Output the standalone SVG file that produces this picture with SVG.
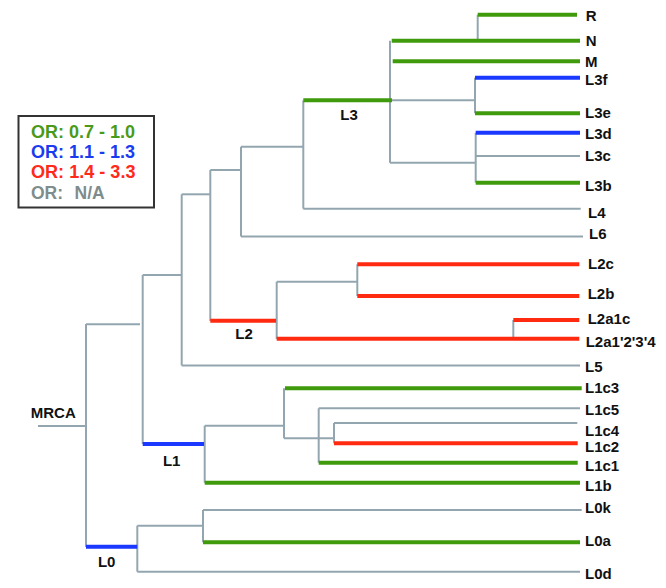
<svg xmlns="http://www.w3.org/2000/svg" width="666" height="588" viewBox="0 0 666 588">
<style>
.g{stroke:#93a6b0;stroke-width:2;fill:none}
.gr{stroke:#3f9a0c;stroke-width:4}
.bl{stroke:#1a38ff;stroke-width:4}
.rd{stroke:#ff2a10;stroke-width:4}
text{font-family:"Liberation Sans",Arial,sans-serif;font-weight:bold;font-size:15px;fill:#111}
.lg{font-size:17.5px}
</style>
<rect width="666" height="588" fill="#fff"/>
<g id="connectors">
<line class="g" x1="38" y1="426" x2="86" y2="426"/>
<line class="g" x1="86" y1="324" x2="86" y2="547"/>
<line class="g" x1="86" y1="324.3" x2="140" y2="324.3"/>
<line class="g" x1="142.7" y1="275" x2="142.7" y2="444"/>
<line class="g" x1="142.7" y1="275" x2="181.7" y2="275"/>
<line class="g" x1="181.7" y1="194.3" x2="181.7" y2="365.5"/>
<line class="g" x1="181.7" y1="365.5" x2="580" y2="365.5"/>
<line class="g" x1="181.7" y1="194.3" x2="210.3" y2="194.3"/>
<line class="g" x1="210.3" y1="170" x2="210.3" y2="321"/>
<line class="g" x1="210.3" y1="170" x2="242" y2="170"/>
<line class="g" x1="241" y1="146.7" x2="241" y2="236.5"/>
<line class="g" x1="241" y1="236.5" x2="583" y2="236.5"/>
<line class="g" x1="241" y1="146.7" x2="303.3" y2="146.7"/>
<line class="g" x1="303.3" y1="100.5" x2="303.3" y2="208.7"/>
<line class="g" x1="303.3" y1="208.7" x2="580.7" y2="208.7"/>
<line class="g" x1="390" y1="40.7" x2="390" y2="162.7"/>
<line class="g" x1="390" y1="100.3" x2="475" y2="100.3"/>
<line class="g" x1="475" y1="77.7" x2="475" y2="113.3"/>
<line class="g" x1="390" y1="162.7" x2="475.7" y2="162.7"/>
<line class="g" x1="475.7" y1="132.7" x2="475.7" y2="182.7"/>
<line class="g" x1="475.7" y1="156" x2="580" y2="156"/>
<line class="g" x1="477.7" y1="14.7" x2="477.7" y2="40.7"/>
<line class="g" x1="276.7" y1="281.7" x2="276.7" y2="339"/>
<line class="g" x1="276.7" y1="281.7" x2="357.3" y2="281.7"/>
<line class="g" x1="357.3" y1="264.3" x2="357.3" y2="296"/>
<line class="g" x1="513.3" y1="320" x2="513.3" y2="338.7"/>
<line class="g" x1="137.3" y1="525.7" x2="137.3" y2="571.7"/>
<line class="g" x1="137.3" y1="525.7" x2="204" y2="525.7"/>
<line class="g" x1="137.3" y1="571.7" x2="580" y2="571.7"/>
<line class="g" x1="203" y1="510" x2="203" y2="542.3"/>
<line class="g" x1="203" y1="510" x2="581.7" y2="510"/>
<line class="g" x1="204.7" y1="425.7" x2="204.7" y2="482.7"/>
<line class="g" x1="204.7" y1="425.7" x2="284" y2="425.7"/>
<line class="g" x1="284" y1="388.3" x2="284" y2="438.3"/>
<line class="g" x1="284" y1="438.3" x2="334" y2="438.3"/>
<line class="g" x1="318.7" y1="408.3" x2="318.7" y2="462.7"/>
<line class="g" x1="318.7" y1="408.3" x2="580" y2="408.3"/>
<line class="g" x1="334" y1="423" x2="334" y2="443.3"/>
<line class="g" x1="334" y1="423" x2="577.3" y2="423"/>
<line class="gr" x1="477.7" y1="14.7" x2="577" y2="14.7"/>
<line class="gr" x1="391.7" y1="40.7" x2="580" y2="40.7"/>
<line class="gr" x1="392.7" y1="61.3" x2="580" y2="61.3"/>
<line class="gr" x1="303.3" y1="100.3" x2="392" y2="100.3"/>
<line class="bl" x1="475" y1="77.7" x2="580" y2="77.7"/>
<line class="gr" x1="475" y1="113.3" x2="580" y2="113.3"/>
<line class="bl" x1="475.7" y1="132.7" x2="580" y2="132.7"/>
<line class="gr" x1="475.7" y1="182.7" x2="580" y2="182.7"/>
<line class="rd" x1="210.3" y1="320.7" x2="276" y2="320.7"/>
<line class="rd" x1="357.3" y1="264.3" x2="579.3" y2="264.3"/>
<line class="rd" x1="357.3" y1="296" x2="579.3" y2="296"/>
<line class="rd" x1="513.3" y1="320" x2="579.3" y2="320"/>
<line class="rd" x1="276.7" y1="338.7" x2="579.3" y2="338.7"/>
<line class="gr" x1="285" y1="388.3" x2="581.7" y2="388.3"/>
<line class="rd" x1="334" y1="443.3" x2="577.7" y2="443.3"/>
<line class="gr" x1="318.7" y1="462.7" x2="577.7" y2="462.7"/>
<line class="gr" x1="204.7" y1="482.7" x2="580" y2="482.7"/>
<line class="bl" x1="142.7" y1="444" x2="204" y2="444"/>
<line class="bl" x1="86" y1="546.7" x2="137.3" y2="546.7"/>
<line class="gr" x1="203" y1="542.3" x2="580" y2="542.3"/>
</g>
<g id="legend">
<rect x="18.5" y="116" width="135.5" height="91.5" fill="#fff" stroke="#333" stroke-width="2"/>
<text class="lg" x="31" y="137.5" textLength="104" lengthAdjust="spacingAndGlyphs" style="fill:#4a9a1a">OR: 0.7 - 1.0</text>
<text class="lg" x="31" y="158" textLength="104" lengthAdjust="spacingAndGlyphs" style="fill:#1a3cf0">OR: 1.1 - 1.3</text>
<text class="lg" x="31" y="178" textLength="104.5" lengthAdjust="spacingAndGlyphs" style="fill:#ff2a1a">OR: 1.4 - 3.3</text>
<text class="lg" y="199" style="fill:#7f8c8c"><tspan x="31">OR:</tspan><tspan x="74.5">N/A</tspan></text>
</g>
<g id="node-MRCA"><text x="53.3" y="417.7" text-anchor="middle">MRCA</text></g>
<g id="node-L0"><text x="106.7" y="567" text-anchor="middle">L0</text></g>
<g id="node-L1"><text x="171.7" y="465.5" text-anchor="middle">L1</text></g>
<g id="node-L2"><text x="244" y="339.4" text-anchor="middle">L2</text></g>
<g id="node-L3"><text x="349" y="119.7" text-anchor="middle">L3</text></g>
<g id="node-R"><text x="585.7" y="20.5">R</text></g>
<g id="node-N"><text x="585.7" y="46">N</text></g>
<g id="node-M"><text x="585" y="66.7">M</text></g>
<g id="node-L3f"><text x="585" y="85.3">L3f</text></g>
<g id="node-L3e"><text x="585" y="118">L3e</text></g>
<g id="node-L3d"><text x="585" y="138.7">L3d</text></g>
<g id="node-L3c"><text x="585" y="160.5">L3c</text></g>
<g id="node-L3b"><text x="585" y="190.5">L3b</text></g>
<g id="node-L4"><text x="588" y="217.7">L4</text></g>
<g id="node-L6"><text x="589" y="238.7">L6</text></g>
<g id="node-L2c"><text x="588" y="268.7">L2c</text></g>
<g id="node-L2b"><text x="587.7" y="298.7">L2b</text></g>
<g id="node-L2a1c"><text x="587.7" y="324">L2a1c</text></g>
<g id="node-L2a1234"><text x="585.7" y="347">L2a1'2'3'4</text></g>
<g id="node-L5"><text x="585" y="372">L5</text></g>
<g id="node-L1c3"><text x="585" y="392.7">L1c3</text></g>
<g id="node-L1c5"><text x="585" y="414.5">L1c5</text></g>
<g id="node-L1c4"><text x="585" y="435.5">L1c4</text></g>
<g id="node-L1c2"><text x="585" y="451.5">L1c2</text></g>
<g id="node-L1c1"><text x="585" y="470.7">L1c1</text></g>
<g id="node-L1b"><text x="585" y="490.5">L1b</text></g>
<g id="node-L0k"><text x="585" y="513">L0k</text></g>
<g id="node-L0a"><text x="585" y="545.5">L0a</text></g>
<g id="node-L0d"><text x="585" y="578.7">L0d</text></g>
</svg>
